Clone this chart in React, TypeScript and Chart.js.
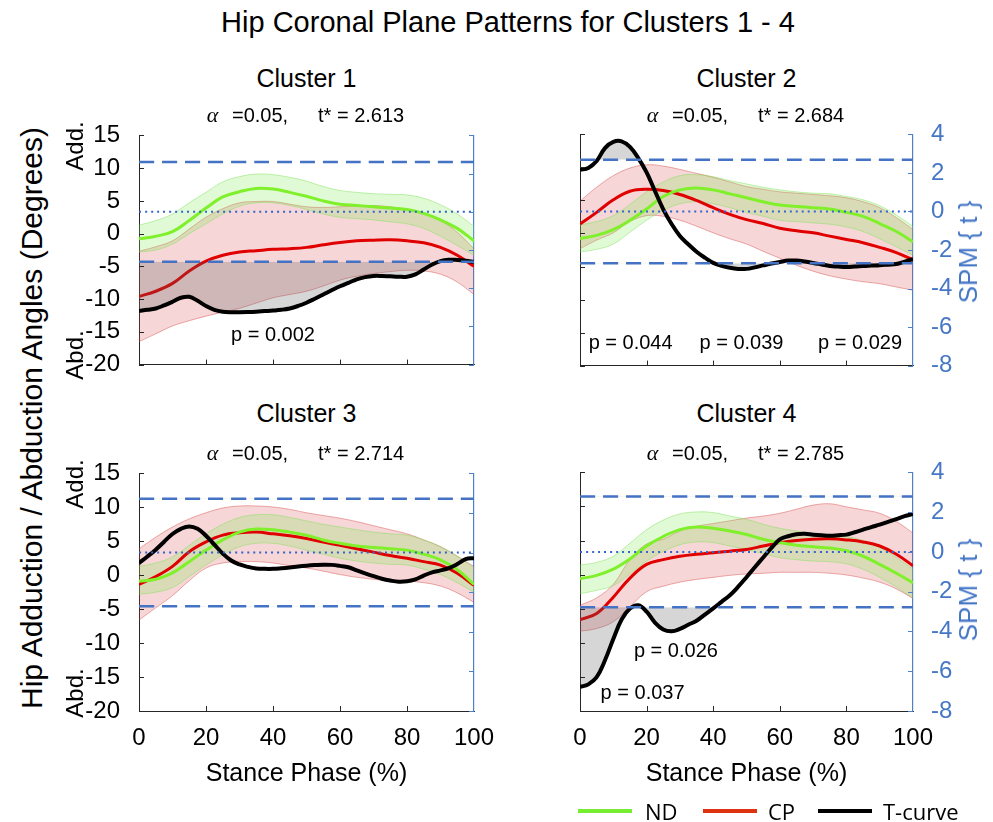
import React, { useEffect, useRef } from 'react';
import { Chart, registerables } from 'chart.js';

Chart.register(...registerables);

const FONT = '"Liberation Sans", Arial, Helvetica, sans-serif';
const LEGEND_FONT = '"Open Sans", "Liberation Sans", Arial, sans-serif';

// ---------- data ----------
const phase = [0, 5, 10, 15, 20, 25, 30, 35, 40, 45, 50, 55, 60, 65, 70, 75, 80, 85, 90, 95, 100];
const tPhase = [0, 2.5, 5, 7.5, 10, 12.5, 15, 17.5, 20, 22.5, 25, 27.5, 30, 32.5, 35, 37.5, 40, 42.5, 45, 47.5, 50,
  52.5, 55, 57.5, 60, 62.5, 65, 67.5, 70, 72.5, 75, 77.5, 80, 82.5, 85, 87.5, 90, 92.5, 95, 97.5, 100];
const xTickValues = [0, 20, 40, 60, 80, 100];
const angleTickValues = [-20, -15, -10, -5, 0, 5, 10, 15];
const spmTickValues = [-8, -6, -4, -2, 0, 2, 4];

const clusterTitles = ['Cluster 1', 'Cluster 2', 'Cluster 3', 'Cluster 4'];
const tStar = [2.613, 2.684, 2.714, 2.785];
const alphaLevel = '0.05';

// Cluster 1
const c1NdMean = [-0.8, -0.4, 0.3, 2.0, 3.9, 5.6, 6.4, 6.9, 6.8, 6.3, 5.7, 5.0, 4.5, 4.3, 4.1, 3.9, 3.7, 3.1, 2.1, 0.8, -1.1];
const c1NdUpper = [1.3, 2.0, 3.0, 4.7, 6.3, 7.9, 8.7, 9.1, 9.0, 8.6, 8.0, 7.2, 6.6, 6.3, 6.1, 6.0, 5.9, 5.4, 4.4, 3.0, 1.1];
const c1NdLower = [-2.8, -2.5, -1.6, 0.0, 1.5, 3.0, 4.2, 4.7, 4.7, 4.3, 3.7, 3.0, 2.5, 2.3, 2.1, 1.8, 1.5, 0.8, -0.4, -1.8, -3.3];
const c1CpMean = [-9.6, -8.8, -7.6, -5.7, -4.2, -3.3, -2.8, -2.6, -2.4, -2.3, -2.1, -1.7, -1.35, -1.1, -1.0, -0.95, -1.1, -1.4, -2.1, -3.3, -5.0];
const c1CpUpper = [-2.7, -2.0, -1.1, 0.7, 2.5, 3.8, 4.7, 4.9, 4.9, 4.5, 4.1, 4.0, 4.1, 4.2, 4.3, 4.1, 3.7, 3.0, 2.0, 0.2, -2.3];
const c1CpLower = [-16.5, -15.3, -14.1, -13.3, -12.6, -12.0, -11.4, -10.6, -9.8, -9.3, -8.8, -8.0, -7.1, -6.5, -6.1, -5.8, -5.6, -5.7, -6.2, -7.4, -9.3];
const c1T = [-5.19, -5.13, -5.06, -4.90, -4.71, -4.50, -4.45, -4.66, -4.93, -5.13, -5.23, -5.26, -5.26, -5.25, -5.23, -5.20,
  -5.17, -5.13, -5.06, -4.93, -4.76, -4.55, -4.33, -4.11, -3.90, -3.72, -3.54, -3.42, -3.36, -3.36, -3.38, -3.40, -3.40,
  -3.28, -3.02, -2.76, -2.58, -2.51, -2.52, -2.56, -2.62];
const c1PText = ['p = 0.002'];
const c1PX = [40];
const c1PT = [-6.47];

// Cluster 2
const c2NdMean = [-0.77, -0.29, 0.58, 2.0, 3.7, 5.6, 6.6, 6.9, 6.6, 6.0, 5.4, 4.8, 4.3, 4.1, 3.9, 3.7, 3.2, 2.6, 1.5, 0.3, -1.25];
const c2NdUpper = [1.3, 1.8, 2.7, 4.4, 6.3, 7.8, 8.75, 8.9, 8.6, 8.0, 7.5, 7.0, 6.6, 6.3, 6.1, 6.0, 5.6, 5.1, 4.2, 2.8, 1.06];
const c2NdLower = [-2.8, -2.4, -1.6, 0.2, 2.0, 3.5, 4.5, 4.8, 4.5, 3.9, 3.2, 2.6, 2.0, 1.8, 1.6, 1.4, 1.0, 0.3, -0.8, -2.0, -3.3];
const c2CpMean = [1.44, 3.2, 5.1, 6.4, 6.7, 6.5, 5.9, 5.0, 3.9, 2.9, 2.1, 1.5, 0.8, 0.4, 0.1, -0.4, -0.9, -1.4, -2.1, -2.9, -4.0];
const c2CpUpper = [4.9, 7.0, 8.75, 9.9, 10.4, 10.2, 9.7, 9.1, 8.5, 7.8, 7.1, 6.7, 6.3, 6.1, 5.9, 5.7, 5.4, 4.8, 3.9, 2.4, 0.6];
const c2CpLower = [-2.3, -1.0, 0.1, 1.8, 2.7, 2.6, 2.0, 1.1, 0.1, -0.8, -1.6, -2.7, -3.75, -4.8, -5.7, -6.4, -6.9, -7.3, -7.6, -8.1, -8.6];
const c2T = [2.16, 2.26, 2.62, 3.29, 3.61, 3.64, 3.35, 2.77, 2.03, 1.06, 0.11, -0.65, -1.27, -1.70, -2.09, -2.40, -2.67,
  -2.82, -2.92, -2.98, -2.98, -2.90, -2.80, -2.70, -2.62, -2.55, -2.55, -2.60, -2.67, -2.75, -2.83, -2.86, -2.88, -2.86,
  -2.83, -2.81, -2.79, -2.76, -2.73, -2.60, -2.47];
const c2PText = ['p = 0.044', 'p = 0.039', 'p = 0.029'];
const c2PX = [15.2, 48.5, 84.1];
const c2PT = [-6.86, -6.86, -6.86];

// Cluster 3
const c3NdMean = [-0.87, -0.6, 0.34, 2.0, 3.7, 5.2, 6.35, 6.8, 6.7, 6.35, 5.9, 5.2, 4.7, 4.3, 4.1, 3.9, 3.7, 3.1, 2.26, 0.8, -1.35];
const c3NdUpper = [1.3, 1.8, 2.7, 4.4, 6.1, 7.5, 8.5, 8.9, 8.9, 8.5, 8.0, 7.5, 7.1, 6.7, 6.35, 6.1, 5.9, 5.2, 4.2, 2.8, 1.06];
const c3NdLower = [-2.8, -2.5, -1.8, -0.2, 1.5, 3.0, 4.2, 4.7, 4.7, 4.3, 3.7, 3.1, 2.5, 2.1, 1.8, 1.6, 1.5, 0.9, 0.1, -1.1, -2.5];
const c3CpMean = [-1.35, -0.2, 1.3, 3.46, 4.9, 5.9, 6.25, 6.35, 6.1, 5.8, 5.4, 4.9, 4.4, 3.9, 3.4, 2.9, 2.5, 2.0, 1.5, 0.3, -1.5];
const c3CpUpper = [3.9, 5.6, 7.1, 8.3, 9.2, 9.9, 10.2, 10.2, 10.05, 9.7, 9.2, 8.8, 8.4, 7.9, 7.3, 6.7, 6.1, 5.2, 4.2, 2.8, 1.3];
const c3CpLower = [-6.6, -4.8, -3.0, -0.8, 1.06, 1.8, 2.0, 2.0, 1.8, 1.4, 1.06, 0.6, 0.1, -0.3, -0.6, -0.8, -0.87, -1.1, -1.6, -2.6, -4.0];
const c3T = [-0.53, -0.2, 0.15, 0.55, 0.94, 1.2, 1.32, 1.2, 0.85, 0.4, -0.05, -0.4, -0.6, -0.72, -0.8, -0.82, -0.82, -0.79,
  -0.75, -0.7, -0.66, -0.63, -0.61, -0.62, -0.67, -0.74, -0.9, -1.05, -1.19, -1.32, -1.41, -1.47, -1.45, -1.35, -1.16,
  -1.0, -0.9, -0.78, -0.58, -0.33, -0.28];
const c3PText: string[] = [];
const c3PX: number[] = [];
const c3PT: number[] = [];

// Cluster 4
const c4NdMean = [-0.6, -0.1, 0.8, 2.3, 4.2, 5.6, 6.6, 7.0, 6.8, 6.4, 5.9, 5.2, 4.7, 4.3, 4.1, 3.9, 3.5, 2.7, 1.5, 0.2, -1.2];
const c4NdUpper = [1.4, 1.8, 2.7, 4.6, 6.6, 8.0, 8.9, 9.2, 9.1, 8.6, 8.1, 7.4, 6.8, 6.4, 6.1, 5.9, 5.6, 5.0, 4.0, 2.5, 0.8];
const c4NdLower = [-2.8, -2.3, -1.6, 0.1, 2.0, 3.4, 4.4, 4.8, 4.7, 4.2, 3.7, 3.1, 2.5, 2.2, 2.0, 1.9, 1.6, 0.8, -0.4, -1.8, -3.4];
const c4CpMean = [-6.6, -5.7, -3.3, -0.5, 1.5, 2.2, 2.7, 3.0, 3.2, 3.45, 3.7, 4.2, 4.7, 5.0, 5.2, 5.25, 5.1, 4.8, 4.2, 3.0, 1.3];
const c4CpUpper = [-4.5, -3.4, -1.4, 2.2, 4.5, 5.2, 6.4, 7.1, 7.5, 7.9, 8.3, 8.6, 9.0, 9.6, 10.2, 10.4, 9.95, 9.5, 9.0, 7.8, 6.1];
const c4CpLower = [-8.3, -7.9, -6.9, -4.7, -2.5, -1.7, -1.1, -0.7, -0.4, -0.1, 0.1, 0.2, 0.34, 0.34, 0.34, 0.2, -0.05, -0.5, -1.1, -2.1, -3.5];
const c4T = [-6.79, -6.66, -6.3, -5.45, -4.38, -3.4, -2.85, -2.68, -3.0, -3.55, -3.9, -3.99, -3.87, -3.66, -3.46, -3.15,
  -2.84, -2.51, -2.18, -1.75, -1.27, -0.77, -0.28, 0.2, 0.63, 0.79, 0.89, 0.91, 0.87, 0.84, 0.82, 0.84, 0.87, 0.99, 1.12,
  1.25, 1.37, 1.51, 1.65, 1.8, 1.91];
const c4PText = ['p = 0.026', 'p = 0.037'];
const c4PX = [28.8, 18.8];
const c4PT = [-4.99, -7.11];

const legendLabels = ['ND', 'CP', 'T-curve'];

// ---------- styles ----------
const AXIS_BLACK = '#262626';
const AXIS_BLUE = '#4f81c9';
const TEXT_BLUE = '#4677c6';
const DASH_BLUE = '#4472c4';
const DOT_BLUE = '#3366cc';
const ND_LINE = '#7ff02a';
const CP_LINE = '#e00000';
const ND_BAND = 'rgba(130,235,90,0.25)';
const ND_EDGE = 'rgba(120,225,80,0.45)';
const CP_BAND = 'rgba(215,70,70,0.22)';
const CP_EDGE = 'rgba(215,70,70,0.45)';
const GRAY = 'rgba(90,90,90,0.25)';
const CLEAR = 'rgba(0,0,0,0)';
const TICK_LEN = 5;

type ClusterDef = {
  title: string; tStar: number;
  ndMean: number[]; ndUpper: number[]; ndLower: number[];
  cpMean: number[]; cpUpper: number[]; cpLower: number[];
  t: number[]; pText: string[]; pX: number[]; pT: number[];
};

const clusters: ClusterDef[] = [
  { title: clusterTitles[0], tStar: tStar[0], ndMean: c1NdMean, ndUpper: c1NdUpper, ndLower: c1NdLower, cpMean: c1CpMean, cpUpper: c1CpUpper, cpLower: c1CpLower, t: c1T, pText: c1PText, pX: c1PX, pT: c1PT },
  { title: clusterTitles[1], tStar: tStar[1], ndMean: c2NdMean, ndUpper: c2NdUpper, ndLower: c2NdLower, cpMean: c2CpMean, cpUpper: c2CpUpper, cpLower: c2CpLower, t: c2T, pText: c2PText, pX: c2PX, pT: c2PT },
  { title: clusterTitles[2], tStar: tStar[2], ndMean: c3NdMean, ndUpper: c3NdUpper, ndLower: c3NdLower, cpMean: c3CpMean, cpUpper: c3CpUpper, cpLower: c3CpLower, t: c3T, pText: c3PText, pX: c3PX, pT: c3PT },
  { title: clusterTitles[3], tStar: tStar[3], ndMean: c4NdMean, ndUpper: c4NdUpper, ndLower: c4NdLower, cpMean: c4CpMean, cpUpper: c4CpUpper, cpLower: c4CpLower, t: c4T, pText: c4PText, pX: c4PX, pT: c4PT },
];

// ---------- geometry ----------
const COLS = [
  { left: 0, width: 500, yW: 139, y2W: 26, center: 306.5 },
  { left: 500, width: 493, yW: 80, y2W: 80, center: 746.5 },
];
const ROWS = [
  { top: 110, height: 280, xH: 17, titleY: 78, alphaY: 115, mid: 251.5 },
  { top: 448, height: 312, xH: 49, titleY: 413, alphaY: 453, mid: 589.5 },
];

const pts = (xs: number[], ys: number[]) => xs.map((x, i) => ({ x, y: ys[i] }));

function overlayPlugin(c: ClusterDef) {
  return {
    id: 'overlay',
    afterDraw(chart: any) {
      const { ctx, chartArea: a } = chart;
      const sx = chart.scales.x, sy = chart.scales.y, sy2 = chart.scales.y2;
      ctx.save();
      ctx.lineWidth = 1;
      const seg = (x1: number, y1: number, x2: number, y2: number) => {
        ctx.beginPath(); ctx.moveTo(x1, y1); ctx.lineTo(x2, y2); ctx.stroke();
      };
      ctx.strokeStyle = AXIS_BLACK;
      for (const t of sx.ticks) {
        const p = Math.round(sx.getPixelForValue(t.value)) + 0.5;
        if (p < a.left + 2 || p > a.right - 2) continue;
        seg(p, a.bottom, p, a.bottom - TICK_LEN);
      }
      for (const t of sy.ticks) {
        const p = Math.round(sy.getPixelForValue(t.value)) + 0.5;
        seg(a.left, p, a.left + TICK_LEN, p);
      }
      ctx.strokeStyle = AXIS_BLUE;
      for (const t of sy2.ticks) {
        const p = Math.round(sy2.getPixelForValue(t.value)) + 0.5;
        seg(a.right, p, a.right - TICK_LEN, p);
      }
      ctx.fillStyle = '#000';
      ctx.font = `20px ${FONT}`;
      ctx.textAlign = 'center';
      ctx.textBaseline = 'middle';
      c.pText.forEach((s, i) => {
        ctx.fillText(s, sx.getPixelForValue(c.pX[i]), sy2.getPixelForValue(c.pT[i]));
      });
      ctx.restore();
    },
  };
}

function ClusterChart({ c, col, row }: { c: ClusterDef; col: number; row: number }) {
  const ref = useRef<HTMLCanvasElement>(null);
  const g = COLS[col];
  const r = ROWS[row];
  useEffect(() => {
    const thr = c.tStar;
    const base = { pointRadius: 0, tension: 0.4, fill: false };
    const datasets: any[] = [
      { ...base, data: pts(phase, c.cpLower), yAxisID: 'y', borderColor: CP_EDGE, borderWidth: 1, order: 20 },
      { ...base, data: pts(phase, c.cpUpper), yAxisID: 'y', borderColor: CP_EDGE, borderWidth: 1, backgroundColor: CP_BAND, fill: '-1', order: 19 },
      { ...base, data: pts(phase, c.ndLower), yAxisID: 'y', borderColor: ND_EDGE, borderWidth: 1, order: 18 },
      { ...base, data: pts(phase, c.ndUpper), yAxisID: 'y', borderColor: ND_EDGE, borderWidth: 1, backgroundColor: ND_BAND, fill: '-1', order: 17 },
      { ...base, data: pts(phase, c.cpMean), yAxisID: 'y', borderColor: CP_LINE, borderWidth: 3, order: 16 },
      { ...base, data: pts(phase, c.ndMean), yAxisID: 'y', borderColor: ND_LINE, borderWidth: 3, order: 15 },
      { ...base, data: pts(tPhase, c.t), yAxisID: 'y2', borderColor: CLEAR, borderWidth: 0, backgroundColor: GRAY, fill: { target: { value: -thr }, above: CLEAR, below: GRAY }, order: 14 },
      { ...base, data: pts(tPhase, c.t), yAxisID: 'y2', borderColor: CLEAR, borderWidth: 0, backgroundColor: GRAY, fill: { target: { value: thr }, above: GRAY, below: CLEAR }, order: 13 },
      { ...base, data: pts(tPhase, c.t), yAxisID: 'y2', borderColor: '#000', borderWidth: 4, order: 12 },
      { ...base, data: pts([0, 100], [thr, thr]), yAxisID: 'y2', borderColor: DASH_BLUE, borderWidth: 2.5, borderDash: [15, 8], order: 11 },
      { ...base, data: pts([0, 100], [-thr, -thr]), yAxisID: 'y2', borderColor: DASH_BLUE, borderWidth: 2.5, borderDash: [15, 8], order: 11 },
      { ...base, data: pts([0, 100], [0, 0]), yAxisID: 'y2', borderColor: DOT_BLUE, borderWidth: 2, borderDash: [2, 4], order: 10 },
    ];
    const tickFont = { family: FONT, size: 24 };
    const chart = new Chart(ref.current as HTMLCanvasElement, {
      type: 'line',
      data: { datasets },
      plugins: [overlayPlugin(c)],
      options: {
        animation: false,
        responsive: false,
        devicePixelRatio: 1,
        events: [],
        layout: { padding: { top: 20, left: 0, right: 0, bottom: 0 } },
        plugins: { legend: { display: false }, tooltip: { enabled: false }, title: { display: false } },
        scales: {
          x: {
            type: 'linear', position: 'bottom', min: 0, max: 100,
            grid: { display: false },
            border: { display: true, color: AXIS_BLACK, width: 1 },
            ticks: { display: row === 1, font: tickFont, color: '#000', padding: 5, maxRotation: 0, autoSkip: false },
            afterBuildTicks: (s: any) => { s.ticks = xTickValues.map((v) => ({ value: v })); },
            afterFit: (s: any) => { s.height = r.xH; },
          },
          y: {
            type: 'linear', position: 'left', min: -20, max: 15,
            grid: { display: false },
            border: { display: true, color: AXIS_BLACK, width: 1 },
            ticks: { display: col === 0, font: tickFont, color: '#000', padding: 11, autoSkip: false },
            afterBuildTicks: (s: any) => { s.ticks = angleTickValues.map((v) => ({ value: v })); },
            afterFit: (s: any) => { s.width = g.yW; },
          },
          y2: {
            type: 'linear', position: 'right', min: -8, max: 4,
            grid: { display: false },
            border: { display: true, color: AXIS_BLUE, width: 1.2 },
            ticks: { display: col === 1, font: tickFont, color: TEXT_BLUE, padding: 10, autoSkip: false },
            afterBuildTicks: (s: any) => { s.ticks = spmTickValues.map((v) => ({ value: v })); },
            afterFit: (s: any) => { s.width = g.y2W; },
          },
        },
      } as any,
    });
    return () => chart.destroy();
  }, []);
  return (
    <canvas
      ref={ref}
      width={g.width}
      height={r.height}
      style={{ position: 'absolute', left: g.left, top: r.top, width: g.width, height: r.height }}
    />
  );
}

function Txt(props: {
  x: number; y: number; size: number; children: React.ReactNode; color?: string; rot?: number;
  family?: string; italic?: boolean; anchor?: 'center' | 'left';
}) {
  const { x, y, size, children, color = '#000', rot = 0, family = FONT, italic = false, anchor = 'center' } = props;
  const tx = anchor === 'center' ? '-50%' : '0';
  return (
    <div
      style={{
        position: 'absolute', left: x, top: y, fontSize: size, color, fontFamily: family,
        fontStyle: italic ? 'italic' : 'normal', whiteSpace: 'pre', lineHeight: 1,
        transform: `translate(${tx},-50%) rotate(${rot}deg)`,
      }}
    >
      {children}
    </div>
  );
}

const legendColors = ['#77ee33', '#dd3311', '#000000'];
const legendLineX = [578, 703, 818];
const legendTextX = [645, 768, 883];

export default function App() {
  return (
    <div style={{ position: 'absolute', left: 0, top: 0, width: 993, height: 822, background: '#fff', overflow: 'hidden', fontFamily: FONT }}>
      <Txt x={508} y={22} size={29}>Hip Coronal Plane Patterns for Clusters 1 - 4</Txt>
      <Txt x={32} y={418} size={30} rot={-90}>Hip Adduction / Abduction Angles (Degrees)</Txt>
      {clusters.map((c, i) => {
        const col = i % 2;
        const row = Math.floor(i / 2);
        const g = COLS[col];
        const r = ROWS[row];
        return (
          <React.Fragment key={i}>
            <ClusterChart c={c} col={col} row={row} />
            <Txt x={g.center} y={r.titleY} size={25}>{c.title}</Txt>
            <Txt x={g.center - 94} y={r.alphaY} size={22} italic family={'"Liberation Serif", "DejaVu Serif", serif'}>α</Txt>
            <Txt x={g.center - 74.5} y={r.alphaY} size={20} anchor="left">{'=' + alphaLevel + ','}</Txt>
            <Txt x={g.center + 11.5} y={r.alphaY} size={20} anchor="left">{'t* = ' + c.tStar.toFixed(3)}</Txt>
            {col === 0 && (
              <>
                <Txt x={75} y={r.mid - 106} size={24} rot={-90}>Add.</Txt>
                <Txt x={75} y={r.mid + 103} size={24} rot={-90}>Abd.</Txt>
              </>
            )}
            {col === 1 && (
              <Txt x={968} y={r.mid} size={26} rot={-90} color={TEXT_BLUE}>SPM {'{'} t {'}'}</Txt>
            )}
            {row === 1 && <Txt x={g.center} y={772} size={25}>Stance Phase (%)</Txt>}
          </React.Fragment>
        );
      })}
      {legendLabels.map((l, i) => (
        <React.Fragment key={l}>
          <div style={{ position: 'absolute', left: legendLineX[i], top: 809, width: 54, height: 4, background: legendColors[i] }} />
          <Txt x={legendTextX[i]} y={811} size={22} anchor="left" family={LEGEND_FONT}>{l}</Txt>
        </React.Fragment>
      ))}
    </div>
  );
}
